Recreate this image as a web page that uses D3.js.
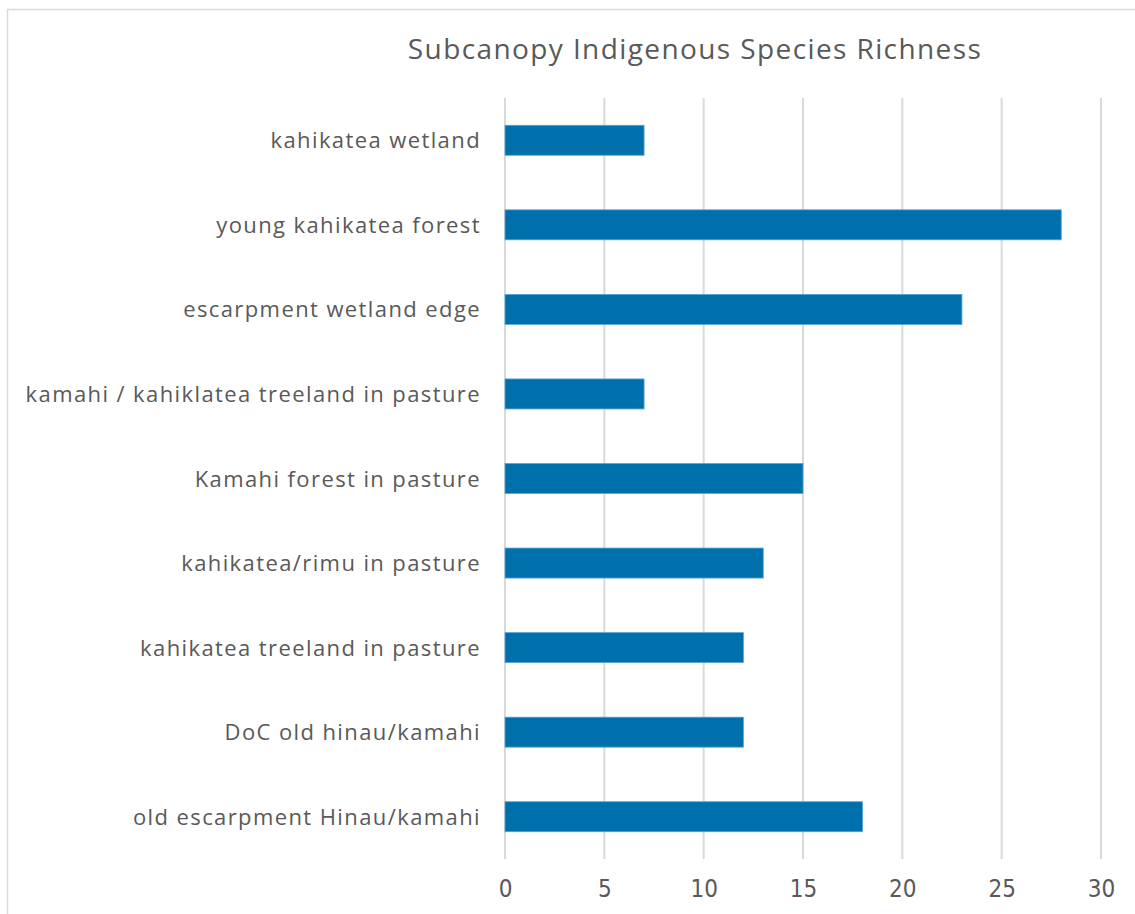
<!DOCTYPE html>
<html><head><meta charset="utf-8">
<script src="https://cdn.jsdelivr.net/npm/d3@7"></script>
<style>body{margin:0;background:#fff}svg{display:block}text{font-family:"Open Sans",sans-serif;fill:#595959}</style>
</head><body><svg id="c" width="1135" height="914"></svg>
<script>
const categories = ["kahikatea wetland","young kahikatea forest","escarpment wetland edge","kamahi / kahiklatea treeland in pasture","Kamahi forest in pasture","kahikatea/rimu in pasture","kahikatea treeland in pasture","DoC old hinau/kamahi","old escarpment Hinau/kamahi"];
const values = [7,28,23,7,15,13,12,12,18];
const xTicks = [0,5,10,15,20,25,30];
const title = "Subcanopy Indigenous Species Richness";

const svg = d3.select("#c");
svg.append("rect").attr("x",7.5).attr("y",9.5).attr("width",1140).attr("height",920).attr("fill","#fff").attr("stroke","#d9d9d9").attr("stroke-width",1.5);

const x = d3.scaleLinear().domain([0,30]).range([505,1101]);
const y = d3.scaleBand().domain(categories).range([98,859]).paddingInner(0.645).paddingOuter(0.3225);

const g = svg.append("g");
g.selectAll("line.grid").data(xTicks).join("line").attr("class","grid")
 .attr("x1",d=>x(d)).attr("x2",d=>x(d)).attr("y1",98).attr("y2",859)
 .attr("stroke","#d9d9d9").attr("stroke-width",2);

g.selectAll("rect.bar").data(values).join("rect").attr("class","bar")
 .attr("x",x(0)).attr("y",(d,i)=>y(categories[i]))
 .attr("width",d=>x(d)-x(0)).attr("height",y.bandwidth())
 .attr("fill","#0070ad").attr("stroke","#5aa6d6").attr("stroke-width",0.8);

const xa = d3.axisBottom(x).tickValues(xTicks).tickSize(0).tickPadding(0);
const xg = svg.append("g").attr("transform","translate(0,880)").call(xa);
xg.select(".domain").remove();
xg.selectAll("text").style("font-size","24px").style("font-family","'DejaVu Sans Condensed','Open Sans',sans-serif").style("font-weight","300").attr("fill","#595959").attr("dy","0.71em");

const ya = d3.axisLeft(y).tickSize(0).tickPadding(0);
const yg = svg.append("g").attr("transform","translate(481,1)").call(ya);
yg.select(".domain").remove();
yg.selectAll("text").style("font-size","22px").style("letter-spacing","1.4px").attr("fill","#595959");

svg.append("text").attr("x",695).attr("y",59).attr("text-anchor","middle")
 .style("font-size","28px").style("letter-spacing","1.4px").text(title);
</script></body></html>
